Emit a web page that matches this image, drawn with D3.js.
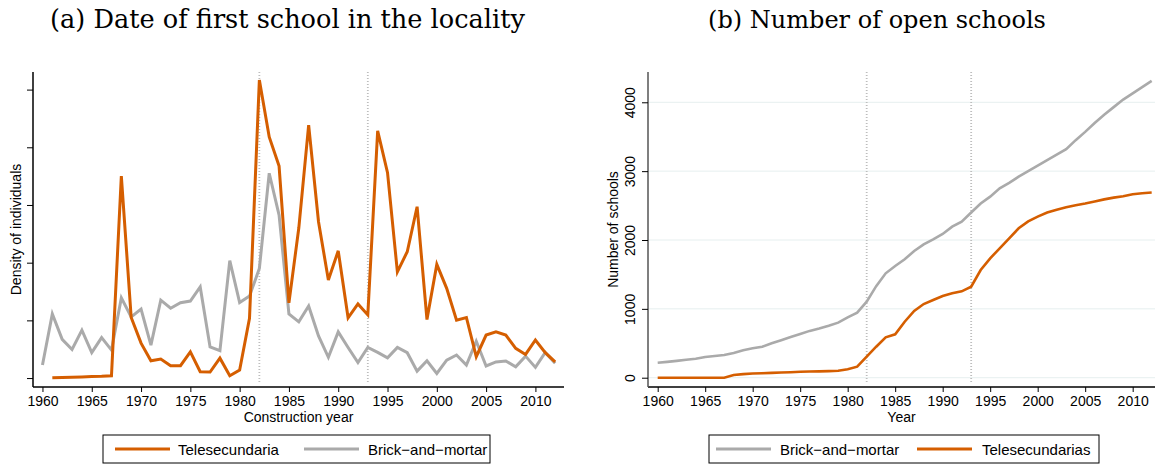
<!DOCTYPE html>
<html>
<head>
<meta charset="utf-8">
<script src="https://cdn.jsdelivr.net/npm/d3@7"></script>
<style>
  body { margin: 0; background: #fff; }
  svg text { font-family: "Liberation Sans", Arial, sans-serif; fill: #000; }
  .title { font-family: "DejaVu Serif", "Liberation Serif", serif; font-size: 22px; }
</style>
</head>
<body>
<svg id="chart" width="1156" height="464"></svg>
<script>
"use strict";

// panel (a): density of individuals by construction year
const yearsA = d3.range(1960, 2013);
const teleDensity = [null, 0.0001, 0.0002, 0.0003, 0.0004, 0.0005, 0.0006, 0.0008, 0.0700, 0.0210,
  0.0121, 0.0060, 0.0066, 0.0043, 0.0043, 0.0091, 0.0022, 0.0021, 0.0069, 0.0008,
  0.0028, 0.0207, 0.1033, 0.0836, 0.0735, 0.0261, 0.0520, 0.0877, 0.0542, 0.0340,
  0.0441, 0.0209, 0.0257, 0.0219, 0.0857, 0.0712, 0.0368, 0.0438, 0.0594, 0.0203,
  0.0394, 0.0311, 0.0201, 0.0210, 0.0074, 0.0149, 0.0160, 0.0149, 0.0103, 0.0082,
  0.0132, 0.0088, 0.0056];
const brickDensity = [0.0045, 0.0222, 0.0134, 0.0099, 0.0166, 0.0088, 0.0140, 0.0097, 0.0278, 0.0212,
  0.0239, 0.0114, 0.0270, 0.0242, 0.0261, 0.0267, 0.0316, 0.0108, 0.0095, 0.0407,
  0.0262, 0.0284, 0.0380, 0.0710, 0.0565, 0.0222, 0.0195, 0.0250, 0.0146, 0.0072,
  0.0160, 0.0106, 0.0054, 0.0106, 0.0089, 0.0070, 0.0106, 0.0088, 0.0024, 0.0060,
  0.0016, 0.0062, 0.0080, 0.0045, 0.0128, 0.0042, 0.0056, 0.0059, 0.0039, 0.0076,
  0.0037, 0.0089, 0.0051];

// panel (b): cumulative number of open schools
const yearsB = d3.range(1960, 2013);
const brickSchools = [218, 230, 245, 260, 275, 300, 315, 330, 360, 400,
  427, 450, 500, 545, 590, 635, 680, 715, 755, 800,
  877, 944, 1104, 1330, 1516, 1622, 1720, 1840, 1937, 2010,
  2087, 2193, 2266, 2400, 2530, 2630, 2750, 2830, 2920, 3000,
  3080, 3160, 3240, 3320, 3450, 3570, 3700, 3820, 3930, 4040,
  4130, 4220, 4310];
const teleSchools = [0, 0, 0, 0, 0, 0, 0, 0, 40, 52,
  60, 65, 70, 75, 80, 87, 90, 92, 96, 100,
  122, 160, 305, 450, 587, 630, 813, 969, 1070, 1128,
  1187, 1226, 1255, 1322, 1564, 1734, 1879, 2025, 2170, 2270,
  2340, 2400, 2440, 2475, 2505, 2530, 2560, 2590, 2615, 2635,
  2665, 2680, 2690];

const xTicks = d3.range(1960, 2011, 5);
const densityTicks = [0, 0.02, 0.04, 0.06, 0.08, 0.1];
const schoolTicks = [0, 1000, 2000, 3000, 4000];
const reformYears = [1982, 1993];

const ORANGE = "#d55e00";
const GRAY = "#aaaaaa";

const svg = d3.select("#chart");

function drawPanel(o) {
  const g = svg.append("g");
  const x = d3.scaleLinear().domain(o.xDomain).range([o.left, o.right]);
  const y = d3.scaleLinear().domain(o.yDomain).range([o.bottom, o.top]);

  // grid
  if (o.grid) {
    g.selectAll("line.grid").data(o.yTicks).enter().append("line")
      .attr("x1", o.left).attr("x2", o.right)
      .attr("y1", d => y(d)).attr("y2", d => y(d))
      .style("stroke", "#e6efef").style("stroke-width", 1);
  }

  // reform markers
  g.selectAll("line.ref").data(reformYears).enter().append("line")
    .attr("x1", d => x(d)).attr("x2", d => x(d))
    .attr("y1", o.top).attr("y2", o.bottom - 3)
    .style("stroke", "#bdbdbd").style("stroke-width", 1.8)
    .style("stroke-dasharray", "1,2");

  const line = d3.line()
    .defined(d => d[1] != null)
    .x(d => x(d[0])).y(d => y(d[1]));

  o.series.forEach(s => {
    g.append("path")
      .datum(s.years.map((yr, i) => [yr, s.values[i]]))
      .attr("d", line)
      .style("fill", "none")
      .style("stroke", s.color)
      .style("stroke-width", o.lineWidth)
      .style("stroke-linejoin", "miter");
  });

  // axes
  const xAxis = d3.axisBottom(x).tickValues(xTicks).tickFormat(d3.format("d")).tickSize(5);
  const xg = g.append("g").attr("transform", "translate(0," + o.bottom + ")").call(xAxis);
  xg.select(".domain").attr("d", "M" + o.left + ",0H" + o.right).style("stroke", "#000").style("stroke-width", 1.5);
  xg.selectAll(".tick text").style("font-size", "14px").attr("dy", "0.95em").attr("y", 6);

  const yAxis = d3.axisLeft(y).tickValues(o.yTicks).tickFormat(d3.format("d")).tickSize(6);
  const yg = g.append("g").attr("transform", "translate(" + o.left + ",0)").call(yAxis);
  yg.select(".domain").attr("d", "M0," + o.top + "V" + o.bottom).style("stroke", o.yAxisColor).style("stroke-width", 1.5);
  if (o.yLabels) {
    yg.selectAll(".tick text")
      .style("font-size", "14px")
      .attr("x", null).attr("dy", null)
      .attr("text-anchor", "middle")
      .attr("transform", "translate(-13,0) rotate(-90)");
  } else {
    yg.selectAll(".tick text").remove();
  }

  // axis titles
  g.append("text").attr("x", (o.left + o.right) / 2).attr("y", o.bottom + 35)
    .attr("text-anchor", "middle").style("font-size", "14px").text(o.xTitle);
  g.append("text")
    .attr("transform", "translate(" + o.yTitleX + "," + ((o.top + o.bottom) / 2) + ") rotate(-90)")
    .attr("text-anchor", "middle").style("font-size", "14px").text(o.yTitle);

  // title, sized to the width it takes in the original
  const t = svg.append("text").attr("class", "title")
    .attr("x", (o.titleSpan[0] + o.titleSpan[1]) / 2).attr("y", 28)
    .attr("text-anchor", "middle").text(o.title);
  const w = t.node().getComputedTextLength();
  t.style("font-size", (22 * (o.titleSpan[1] - o.titleSpan[0]) / w) + "px");

  // legend
  const lg = svg.append("g");
  lg.append("rect").attr("x", o.legend.x0).attr("y", 435)
    .attr("width", o.legend.x1 - o.legend.x0).attr("height", 28)
    .style("fill", "#fff").style("stroke", "#000").style("stroke-width", 1);
  o.legend.items.forEach(it => {
    lg.append("line").attr("x1", it.lx).attr("x2", it.lx + 55)
      .attr("y1", 449).attr("y2", 449)
      .style("stroke", it.color).style("stroke-width", 3);
    lg.append("text").attr("x", it.tx).attr("y", 454.5)
      .style("font-size", "15px").text(it.label);
  });
}

drawPanel({
  left: 33, right: 564, top: 72, bottom: 387,
  xDomain: [1959.04, 2012.9],
  yDomain: [-0.0031, 0.1061],
  yTicks: densityTicks, yLabels: false, grid: false,
  yAxisColor: "#000", lineWidth: 3,
  xTitle: "Construction year", yTitle: "Density of individuals", yTitleX: 21,
  title: "(a) Date of first school in the locality", titleSpan: [50, 525],
  series: [
    { years: yearsA, values: brickDensity, color: GRAY },
    { years: yearsA, values: teleDensity, color: ORANGE }
  ],
  legend: {
    x0: 103, x1: 490,
    items: [
      { lx: 115, tx: 178, color: ORANGE, label: "Telesecundaria" },
      { lx: 304, tx: 368, color: GRAY, label: "Brick\u2212and\u2212mortar" }
    ]
  }
});

drawPanel({
  left: 648, right: 1155, top: 72, bottom: 387,
  xDomain: [1958.98, 2012.35],
  yDomain: [-135, 4440],
  yTicks: schoolTicks, yLabels: true, grid: true,
  yAxisColor: "#555", lineWidth: 2.6,
  xTitle: "Year", yTitle: "Number of schools", yTitleX: 618,
  title: "(b) Number of open schools", titleSpan: [708, 1046],
  series: [
    { years: yearsB, values: brickSchools, color: GRAY },
    { years: yearsB, values: teleSchools, color: ORANGE }
  ],
  legend: {
    x0: 709, x1: 1099,
    items: [
      { lx: 716, tx: 780, color: GRAY, label: "Brick\u2212and\u2212mortar" },
      { lx: 917, tx: 982, color: ORANGE, label: "Telesecundarias" }
    ]
  }
});
</script>
</body>
</html>
